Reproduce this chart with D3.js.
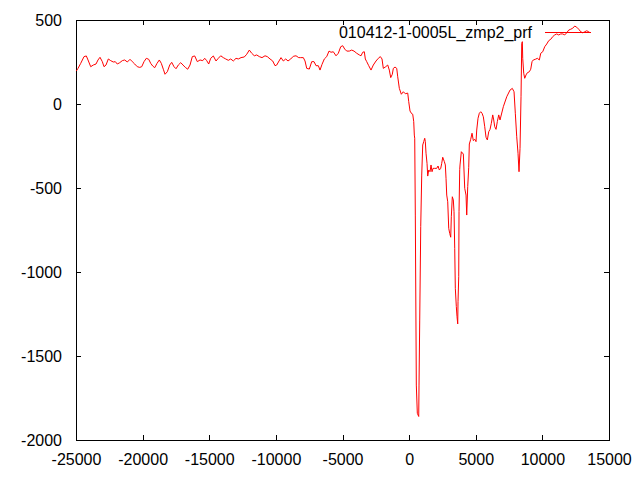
<!DOCTYPE html>
<html>
<head>
<meta charset="utf-8">
<script src="https://cdn.jsdelivr.net/npm/d3@7"></script>
<style>
  body { margin: 0; background: #fff; }
  svg { display: block; }
  text { font-family: "Liberation Sans", Arial, sans-serif; font-size: 16px; fill: #000; }
</style>
</head>
<body>
<svg id="chart" width="640" height="480"></svg>
<script>
// Series name and axis ticks
const seriesName = "010412-1-0005L_zmp2_prf";
const xTicks = [-25000, -20000, -15000, -10000, -5000, 0, 5000, 10000, 15000];
const yTicks = [-2000, -1500, -1000, -500, 0, 500];

// Profile positions (x)
const profileX = [
  -24980, -24849, -24646, -24398, -24226, -24099, -23896, -23701, -23498, -23348,
  -23198, -23025, -22898, -22748, -22575, -22395, -22200, -22050, -21900, -21720,
  -21524, -21344, -21149, -20946, -20774, -20594, -20399, -20219, -20068, -19896,
  -19723, -19543, -19393, -19243, -19093, -18920, -18747, -18597, -18447, -18320,
  -18147, -17967, -17817, -17644, -17494, -17322, -17141, -16969, -16796, -16616,
  -16443, -16271, -16091, -15895, -15693, -15490, -15340, -15190, -15040, -14890,
  -14695, -14492, -14320, -14139, -13944, -13764, -13569, -13389, -13194, -12991,
  -12819, -12616, -12368, -12188, -11993, -11813, -11618, -11438, -11242, -11040,
  -10815, -10642, -10439, -10237, -10064, -9937, -9764, -9614, -9441, -9261,
  -9089, -8886, -8691, -8488, -8286, -8136, -7940, -7813, -7685, -7490,
  -7310, -7137, -6987, -6815, -6687, -6537, -6364, -6184, -6012, -5861,
  -5689, -5486, -5314, -5133, -4983, -4833, -4683, -4488, -4308, -4135,
  -3933, -3737, -3610, -3482, -3362, -3287, -3182, -3032, -2859, -2687,
  -2484, -2312, -2161, -2034, -1936, -1756, -1606, -1486, -1381, -1261,
  -1186, -1058, -931, -856, -735, -585, -435, -285, -105, -30,
  68, 195, 270, 345, 390, 420, 465, 540, 615, 720,
  743, 796, 871, 946, 1021, 1096, 1171, 1216, 1268, 1343,
  1396, 1471, 1569, 1644, 1719, 1794, 1891, 2071, 2169, 2267,
  2372, 2447, 2522, 2597, 2642, 2717, 2769, 2822, 2897, 2972,
  3047, 3122, 3167, 3242, 3317, 3370, 3422, 3467, 3542, 3595,
  3647, 3670, 3722, 3745, 3798, 3820, 3918, 4068, 4173, 4270,
  4323, 4398, 4473, 4518, 4623, 4721, 4818, 4923, 5021, 5073,
  5171, 5269, 5374, 5471, 5569, 5674, 5771, 5869, 5974, 6072,
  6169, 6274, 6349, 6424, 6522, 6619, 6724, 6822, 7070, 7325,
  7573, 7745, 7873, 7970, 8075, 8173, 8248, 8323, 8398, 8451,
  8496, 8526, 8601, 8676, 8773, 8871, 9021, 9126, 9224, 9321,
  9471, 9621, 9772, 9877, 10026, 10177, 10327, 10477, 10627, 10777,
  10927, 11077, 11227, 11377, 11528, 11678, 11828, 11978, 12128, 12278,
  12428, 12578, 12729, 12879, 13029, 13179, 13329, 13479, 13576
];

// Profile values (y)
const profileY = [
  196, 212, 242, 282, 286, 262, 222, 232, 238, 262,
  278, 252, 222, 232, 268, 258, 250, 252, 238, 246,
  258, 262, 250, 266, 252, 238, 222, 218, 222, 252,
  272, 266, 242, 226, 216, 242, 262, 242, 207, 177,
  192, 232, 248, 222, 210, 232, 246, 232, 218, 207,
  232, 282, 286, 252, 262, 258, 272, 258, 238, 272,
  286, 256, 272, 287, 276, 268, 260, 268, 256, 272,
  268, 276, 280, 296, 321, 302, 287, 292, 282, 276,
  287, 282, 268, 256, 228, 232, 256, 276, 256, 268,
  256, 268, 284, 287, 276, 276, 276, 256, 212, 208,
  252, 252, 228, 228, 202, 236, 268, 282, 315, 308,
  311, 287, 302, 341, 347, 327, 315, 315, 321, 315,
  302, 292, 287, 308, 311, 268, 252, 228, 202, 232,
  256, 272, 282, 268, 212, 222, 232, 202, 157, 177,
  212, 220, 212, 162, 93, 58, 73, 61, 65, 14,
  -42, -58, -61, -105, -185, -204, -661, -1673, -1841, -1860,
  -1673, -1286, -730, -423, -244, -224, -204, -224, -293, -353,
  -429, -393, -403, -363, -403, -383, -383, -383, -369, -393,
  -383, -353, -317, -333, -343, -363, -442, -542, -582, -740,
  -770, -793, -671, -552, -571, -641, -859, -1097, -1206, -1266,
  -1309, -1177, -1028, -641, -389, -363, -284, -298, -502, -542,
  -661, -492, -377, -238, -210, -174, -218, -210, -224, -155,
  -85, -55, -46, -55, -76, -135, -198, -214, -165, -151,
  -115, -65, -95, -135, -151, -105, -65, -95, -16, 43,
  83, 93, 73, -55, -195, -293, -403, -264, 43, 361,
  371, 272, 183, 153, 173, 186, 192, 207, 252, 262,
  266, 272, 262, 302, 311, 341, 357, 377, 385, 401,
  411, 417, 411, 417, 417, 411, 424, 440, 445, 451,
  464, 457, 445, 430, 424, 430, 436, 430, 424
];

const svg = d3.select("#chart");
const plotLeft = 76, plotRight = 609, plotTop = 20, plotBottom = 440;

const x = d3.scaleLinear().domain([-25000, 15000]).range([plotLeft, plotRight]);
const y = d3.scaleLinear().domain([-2000, 500]).range([plotBottom, plotTop]);

const tickLen = 5;
// gnuplot prints plain hyphens, not the unicode minus d3.format gives
const plain = d => String(d);

// Bottom and top axes (ticks pointing inwards, gnuplot style)
svg.append("g")
    .attr("transform", `translate(0, ${plotBottom})`)
    .call(d3.axisBottom(x).tickValues(xTicks).tickSize(-tickLen).tickPadding(tickLen + 9).tickFormat(plain))
    .call(g => g.select(".domain").remove())
    .call(g => g.selectAll("text").attr("font-family", null).attr("font-size", null));

svg.append("g")
    .attr("transform", `translate(0, ${plotTop})`)
    .call(d3.axisTop(x).tickValues(xTicks).tickSize(-tickLen).tickFormat(""))
    .call(g => g.select(".domain").remove());

svg.append("g")
    .attr("transform", `translate(${plotLeft}, 0)`)
    .call(d3.axisLeft(y).tickValues(yTicks).tickSize(-tickLen).tickPadding(tickLen + 9).tickFormat(plain))
    .call(g => g.select(".domain").remove())
    .call(g => g.selectAll("text").attr("font-family", null).attr("font-size", null));

svg.append("g")
    .attr("transform", `translate(${plotRight}, 0)`)
    .call(d3.axisRight(y).tickValues(yTicks).tickSize(-tickLen).tickFormat(""))
    .call(g => g.select(".domain").remove());

svg.selectAll(".tick line").attr("stroke", "#000").attr("shape-rendering", "crispEdges");

// Frame
svg.append("rect")
    .attr("x", plotLeft).attr("y", plotTop)
    .attr("width", plotRight - plotLeft).attr("height", plotBottom - plotTop)
    .attr("fill", "none").attr("stroke", "#000")
    .attr("shape-rendering", "crispEdges");

// Profile line
const points = profileX.map((d, i) => [d, profileY[i]]);
const line = d3.line().x(d => x(d[0])).y(d => y(d[1]));

svg.append("path")
    .datum(points)
    .attr("d", line)
    .attr("fill", "none")
    .attr("stroke", "#ff0000")
    .attr("stroke-width", 1);

// Legend (top right, inside the frame)
const legend = svg.append("g");
legend.append("text")
    .attr("x", 532).attr("y", 38)
    .attr("text-anchor", "end")
    .text(seriesName);
legend.append("line")
    .attr("x1", 545).attr("x2", 591)
    .attr("y1", 32.5).attr("y2", 32.5)
    .attr("stroke", "#ff0000")
    .attr("stroke-width", 1);
</script>
</body>
</html>
